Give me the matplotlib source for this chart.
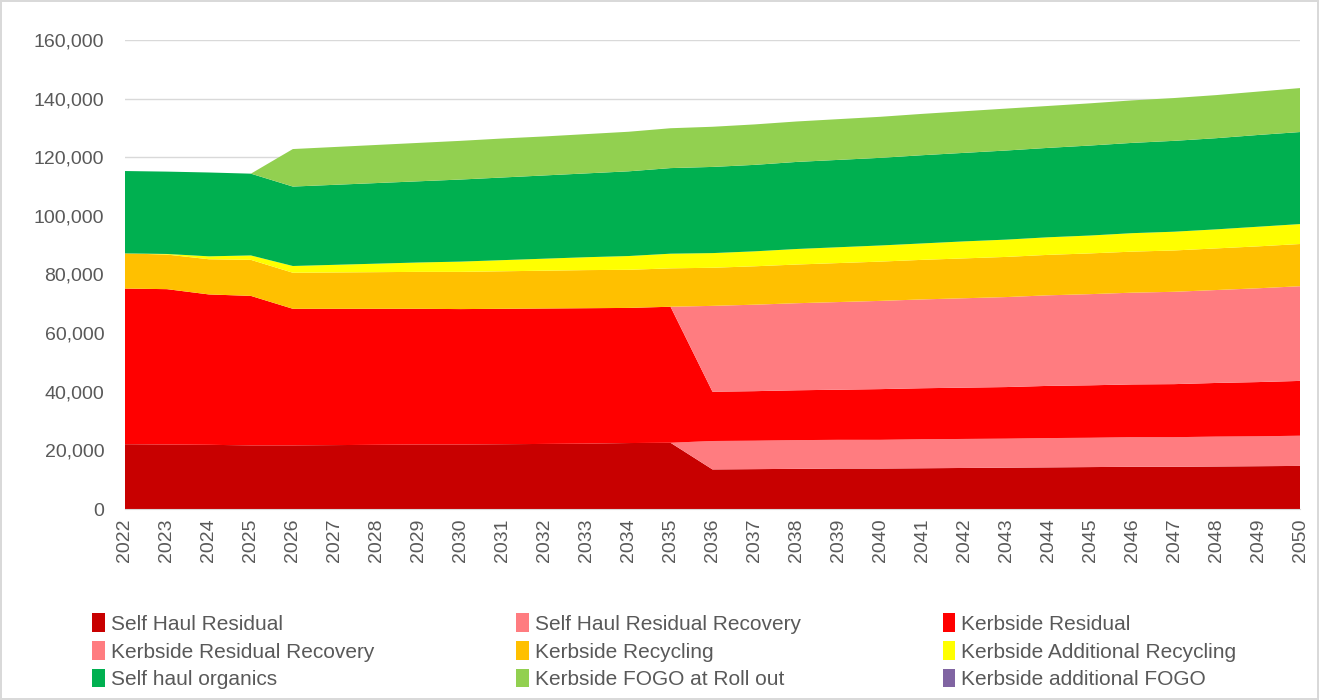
import matplotlib
matplotlib.use("Agg")
import matplotlib.pyplot as plt
from matplotlib.patches import Patch

plt.rcParams["font.family"] = ["Liberation Sans Narrow", "Liberation Sans", "DejaVu Sans"]

years = list(range(2022, 2051))

# tonnes per year
self_haul_residual = [22.1, 22.0, 21.9, 21.7, 21.7, 21.8, 21.9, 22.0, 22.0, 22.1, 22.2, 22.3, 22.5, 22.6,
                      13.5, 13.6, 13.7, 13.8, 13.8, 13.9, 14.0, 14.1, 14.2, 14.3, 14.4, 14.4, 14.5, 14.6, 14.7]
self_haul_residual_recovery = [0] * 14 + [9.7, 9.7, 9.8, 9.8, 9.8, 9.9, 9.9, 9.9, 10.0, 10.0, 10.1, 10.1, 10.2, 10.2, 10.3]
kerbside_residual = [53.1, 53.0, 51.3, 51.0, 46.6, 46.5, 46.4, 46.3, 46.2, 46.2, 46.2, 46.2, 46.1, 46.4,
                     16.8, 16.9, 17.0, 17.1, 17.3, 17.4, 17.5, 17.6, 17.8, 17.9, 18.0, 18.1, 18.3, 18.5, 18.7]
kerbside_residual_recovery = [0] * 14 + [29.3, 29.5, 29.7, 29.9, 30.1, 30.3, 30.5, 30.7, 30.9, 31.1, 31.3, 31.5, 31.7, 32.0, 32.3]
kerbside_recycling = [12.0, 11.8, 12.0, 12.3, 12.3, 12.4, 12.5, 12.6, 12.7, 12.8, 12.9, 13.0, 13.0, 13.1,
                      13.0, 13.1, 13.2, 13.3, 13.4, 13.5, 13.6, 13.7, 13.8, 13.9, 14.0, 14.1, 14.2, 14.3, 14.4]
kerbside_additional_recycling = [0, 0.2, 1.0, 1.5, 2.3, 2.6, 2.9, 3.2, 3.5, 3.8, 4.1, 4.4, 4.7, 5.0,
                                 5.0, 5.1, 5.3, 5.4, 5.5, 5.6, 5.8, 5.9, 6.0, 6.1, 6.3, 6.4, 6.5, 6.7, 6.8]
self_haul_organics = [28.1, 28.1, 28.6, 27.9, 27.1, 27.3, 27.5, 27.7, 28.0, 28.2, 28.4, 28.6, 28.9, 29.2,
                      29.4, 29.5, 29.7, 29.8, 29.9, 30.1, 30.2, 30.4, 30.5, 30.7, 30.8, 31.0, 31.1, 31.3, 31.4]
kerbside_fogo_rollout = [0, 0, 0, 0, 12.8, 12.9, 13.0, 13.1, 13.2, 13.3, 13.3, 13.4, 13.5, 13.6, 13.7, 13.8,
                         13.8, 13.9, 14.0, 14.1, 14.2, 14.3, 14.3, 14.4, 14.5, 14.6, 14.7, 14.8, 15.0]
kerbside_additional_fogo = [0] * 29

labels = ["Self Haul Residual", "Self Haul Residual Recovery", "Kerbside Residual",
          "Kerbside Residual Recovery", "Kerbside Recycling", "Kerbside Additional Recycling",
          "Self haul organics", "Kerbside FOGO at Roll out", "Kerbside additional FOGO"]
colors = ["#C80000", "#FF7C80", "#FF0000", "#FF7C80", "#FFC000", "#FFFF00",
          "#00B050", "#92D050", "#8064A2"]
series = [self_haul_residual, self_haul_residual_recovery, kerbside_residual,
          kerbside_residual_recovery, kerbside_recycling, kerbside_additional_recycling,
          self_haul_organics, kerbside_fogo_rollout, kerbside_additional_fogo]
series = [[v * 1000 for v in s] for s in series]

fig = plt.figure(figsize=(13.19, 7.0), dpi=100)
fig.patch.set_edgecolor("#D9D9D9")
fig.patch.set_linewidth(1.5)
ax = fig.add_axes([125 / 1319, 1 - 509 / 700, 1175 / 1319, 469 / 700])

ax.stackplot(years, *series, colors=colors, linewidth=0, zorder=2)

ax.set_xlim(2022, 2050)
ax.set_ylim(0, 160000)
ax.set_yticks(range(0, 160001, 20000))
ax.set_yticklabels([f"{v:,}" for v in range(0, 160001, 20000)])
ax.set_xticks(years)
ax.set_xticklabels([str(y) for y in years], rotation=90)
ax.tick_params(axis="both", length=0, labelsize=14, colors="#595959")
ax.tick_params(axis="y", pad=15)
ax.tick_params(axis="x", pad=7)
ax.grid(axis="y", color="#D9D9D9", linewidth=1, zorder=0)
for s in ["top", "right", "left"]:
    ax.spines[s].set_visible(False)
ax.spines["bottom"].set_color("#D9D9D9")
ax.spines["bottom"].set_zorder(3)

# legend fills row-wise in the reference
order = [0, 3, 6, 1, 4, 7, 2, 5, 8]
handles = [Patch(facecolor=colors[i], label=labels[i]) for i in order]
fig.legend(handles=handles, ncol=3, loc="upper left", bbox_to_anchor=(84 / 1319, 1 - 605 / 700),
           frameon=False, fontsize=15, labelcolor="#595959", handlelength=0.6, handleheight=1.0,
           handletextpad=0.3, columnspacing=6.8, labelspacing=0.35, borderaxespad=0)

fig.savefig("out.png", dpi=100, edgecolor=fig.get_edgecolor())
